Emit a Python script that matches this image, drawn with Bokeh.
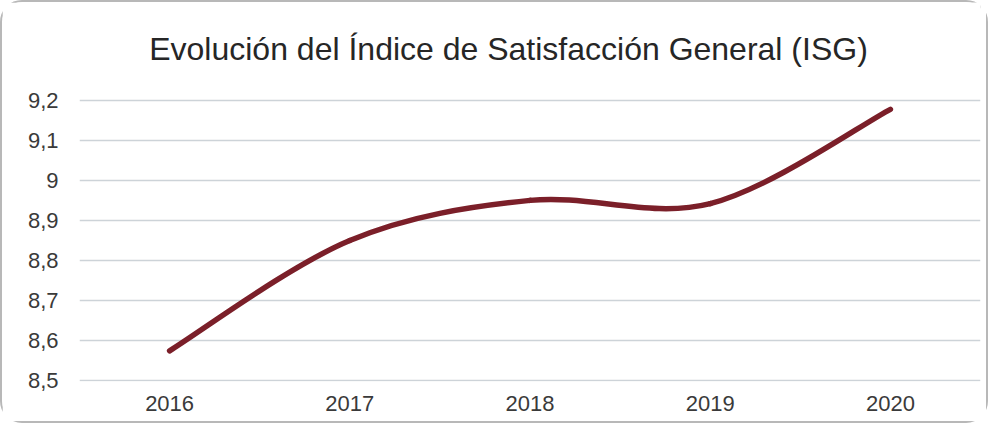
from bokeh.plotting import figure
from bokeh.models import FixedTicker, Range1d, ColumnDataSource, Label
from bokeh.embed import file_html
from bokeh.resources import INLINE

years = ["2016", "2017", "2018", "2019", "2020"]
isg = [8.575, 8.85, 8.95, 8.942, 9.177]
y_ticks = [8.5, 8.6, 8.7, 8.8, 8.9, 9.0, 9.1, 9.2]
y_tick_labels = ["8,5", "8,6", "8,7", "8,8", "8,9", "9", "9,1", "9,2"]
title_text = "Evolución del Índice de Satisfacción General (ISG)"

xs = [i + 0.5 for i in range(len(years))]

# smoothed-line segments (Catmull-Rom style Bezier, like spreadsheet "smoothed line")
n = len(xs)
seg = dict(x0=[], y0=[], x1=[], y1=[], cx0=[], cy0=[], cx1=[], cy1=[])
for i in range(n - 1):
    p0 = (xs[max(i - 1, 0)], isg[max(i - 1, 0)])
    p1 = (xs[i], isg[i])
    p2 = (xs[i + 1], isg[i + 1])
    p3 = (xs[min(i + 2, n - 1)], isg[min(i + 2, n - 1)])
    seg["x0"].append(p1[0]); seg["y0"].append(p1[1])
    seg["x1"].append(p2[0]); seg["y1"].append(p2[1])
    seg["cx0"].append(p1[0] + (p2[0] - p0[0]) / 6)
    seg["cy0"].append(p1[1] + (p2[1] - p0[1]) / 6)
    seg["cx1"].append(p2[0] - (p3[0] - p1[0]) / 6)
    seg["cy1"].append(p2[1] - (p3[1] - p1[1]) / 6)
src = ColumnDataSource(seg)

W, H = 988, 423
ML, MR, MB = 77, 10, 44
PLOT_TOP = 97                      # pixel row (from canvas top) where the 9,2 gridline sits
frame_h = H - MB                   # frame spans the full height above the x axis
y_lo, y_hi = 8.4985, 9.2015
y_end = y_lo + (y_hi - y_lo) * frame_h / (frame_h - PLOT_TOP)

p = figure(width=W, height=H, output_backend="svg", toolbar_location=None,
           x_range=Range1d(0, len(years)), y_range=Range1d(y_lo, y_end),
           min_border_left=ML, min_border_right=MR, min_border_top=0,
           min_border_bottom=MB)
p.outline_line_color = None
p.background_fill_color = "white"
p.border_fill_color = "white"
p.styles = {"border": "2px solid #b8b8b8", "border-radius": "22px", "box-sizing": "border-box"}

p.bezier(x0="x0", y0="y0", x1="x1", y1="y1", cx0="cx0", cy0="cy0", cx1="cx1", cy1="cy1",
         source=src, line_color="#7b1f29", line_width=5.5, line_cap="round")

# title (inside the frame, above the plotting area)
p.add_layout(Label(x=506 - ML, y=frame_h - 46, x_units="screen", y_units="screen",
                   text=title_text, text_align="center", text_baseline="alphabetic",
                   text_font="Liberation Sans", text_font_size="32px",
                   text_color="#262626"))

# axes
p.xaxis.ticker = FixedTicker(ticks=xs)
p.xaxis.major_label_overrides = {x: y for x, y in zip(xs, years)}
p.yaxis.ticker = FixedTicker(ticks=y_ticks)
p.yaxis.major_label_overrides = {t: l for t, l in zip(y_ticks, y_tick_labels)}
for ax in (p.xaxis, p.yaxis):
    ax.axis_line_color = None
    ax.major_tick_line_color = None
    ax.minor_tick_line_color = None
    ax.major_label_text_font = "Liberation Sans"
    ax.major_label_text_font_size = "22px"
    ax.major_label_text_color = "#3a3a3a"
p.xaxis.major_label_standoff = 8
p.yaxis.major_label_standoff = 15

p.xgrid.grid_line_color = None
p.ygrid.ticker = FixedTicker(ticks=y_ticks)
p.ygrid.grid_line_color = "#cdd3d8"
p.ygrid.grid_line_width = 1.5

open("out.html", "w").write(file_html(p, INLINE))
